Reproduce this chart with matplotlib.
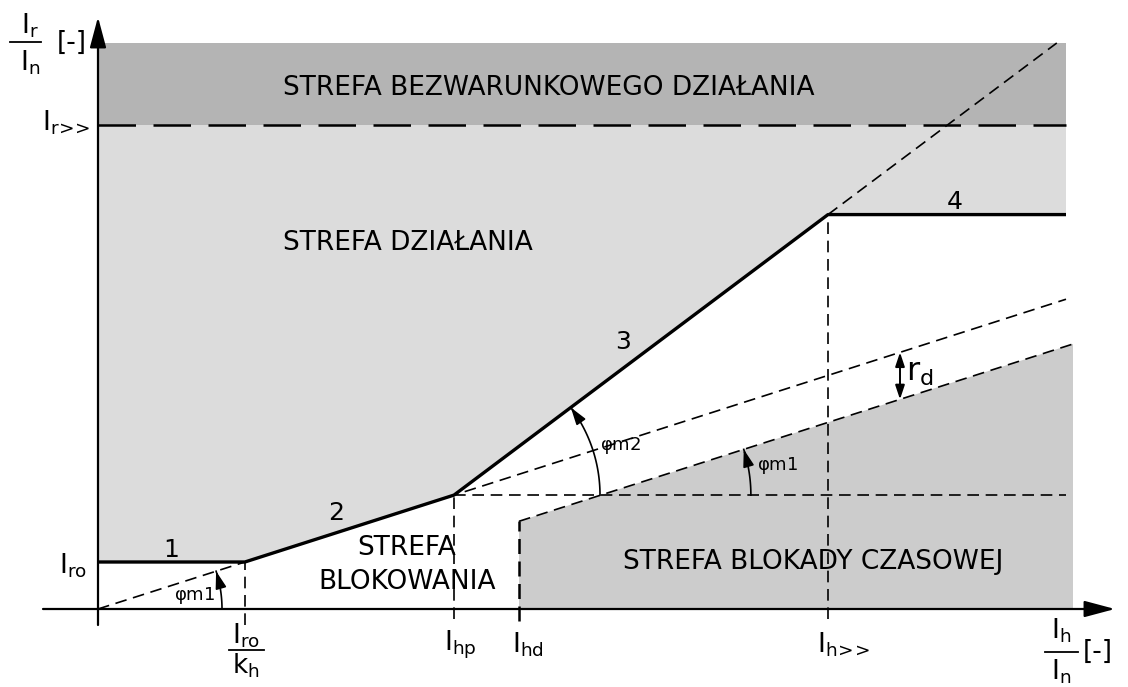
import numpy as np
import matplotlib.pyplot as plt
from matplotlib.patches import Polygon

# characteristic parameters (sketch units, Ih/In on x, Ir/In on y)
I_ro = 0.47        # minimum operating current
tg_m1 = 0.32       # slope of section 2 (phi_m1)
tg_m2 = 0.75       # slope of section 3 (phi_m2)
I_hp = 3.56        # breakpoint 2/3
I_hd = 4.21        # start of time-blocking zone
I_h_max = 7.30     # I_h>>
I_r_max = 4.84     # I_r>>
r_d = 0.47         # offset of the blocking line
x_end = 9.68
x_end_block = 9.75
y_top = 5.66

seg_labels = ['1', '2', '3', '4']
zone_labels = ['STREFA BEZWARUNKOWEGO DZIAŁANIA', 'STREFA DZIAŁANIA',
               'STREFA', 'BLOKOWANIA', 'STREFA BLOKADY CZASOWEJ']

# derived points
I_ro_kh = I_ro / tg_m1
y_hp = tg_m1 * I_hp
y_hmax = y_hp + tg_m2 * (I_h_max - I_hp)
x_cross = I_hp + r_d / tg_m1


def lower(x):
    return tg_m1 * x - r_d


char_x = [0, I_ro_kh, I_hp, I_h_max, x_end]
char_y = [I_ro, I_ro, y_hp, y_hmax, y_hmax]

plt.rcParams['font.family'] = ['DejaVu Sans']
plt.rcParams['mathtext.default'] = 'regular'

fig = plt.figure(figsize=(11.28, 6.87), dpi=100)
ax = fig.add_axes([0, 0, 1, 1])
ax.set_xlim(-0.98, 10.30)
ax.set_ylim(-0.78, 6.09)
ax.axis('off')

# zones
ax.add_patch(Polygon([(0, I_r_max), (x_end, I_r_max), (x_end, y_top), (0, y_top)],
                     closed=True, fc='#b4b4b4', ec='none', zorder=1))
ax.add_patch(Polygon([(0, I_ro), (I_ro_kh, I_ro), (I_hp, y_hp), (I_h_max, y_hmax),
                      (x_end, y_hmax), (x_end, I_r_max), (0, I_r_max)],
                     closed=True, fc='#dcdcdc', ec='none', zorder=1))
ax.add_patch(Polygon([(I_hd, 0), (I_hd, lower(I_hd)), (x_end_block, lower(x_end_block)),
                      (x_end_block, 0)], closed=True, fc='#cccccc', ec='none', zorder=1))

thin = dict(color='k', lw=1.2, ls=(0, (7, 4)), zorder=3)

# Ir>> line
ax.plot([0, x_end], [I_r_max, I_r_max], color='k', lw=1.8, ls=(0, (15, 7)), zorder=3)

# auxiliary dashed lines
x_up = np.array([0, x_end])
ax.plot(x_up, tg_m1 * x_up, **thin)
ax.plot([I_hp, x_end], [y_hp, y_hp], **thin)
ax.plot([I_hd, x_end_block], [lower(I_hd), lower(x_end_block)], **thin)
x_ext = I_hp + (y_top - y_hp) / tg_m2
ax.plot([I_h_max, x_ext], [y_hmax, y_top], **thin)
ax.plot([I_ro_kh, I_ro_kh], [-0.16, I_ro], **thin)
ax.plot([I_hp, I_hp], [-0.1, y_hp], **thin)
ax.plot([I_h_max, I_h_max], [-0.1, y_hmax], **thin)
ax.plot([I_hd, I_hd], [-0.12, lower(I_hd)], color='k', lw=1.8, ls=(0, (6, 3)), zorder=3)

# characteristic
ax.plot(char_x, char_y, color='k', lw=2.4, solid_capstyle='butt', zorder=4)

# axes arrows
arr = dict(arrowstyle='-|>,head_length=0.75,head_width=0.2', color='k', lw=1.6,
           mutation_scale=25, shrinkA=0, shrinkB=0)
ax.annotate('', xy=(10.17, 0), xytext=(-0.55, 0), arrowprops=arr, zorder=5)
ax.annotate('', xy=(0, 5.92), xytext=(0, -0.16), arrowprops=arr, zorder=5)


def angle_arc(cx, cy, r, a2):
    t = np.linspace(0, a2, 60)
    ax.plot(cx + r * np.cos(t), cy + r * np.sin(t), color='k', lw=1.2, zorder=4)
    ax.annotate('', xy=(cx + r * np.cos(a2), cy + r * np.sin(a2)),
                xytext=(cx + r * np.cos(a2 - 0.06), cy + r * np.sin(a2 - 0.06)),
                arrowprops=dict(arrowstyle='-|>,head_length=0.7,head_width=0.22',
                                color='k', lw=1.2, mutation_scale=15,
                                shrinkA=0, shrinkB=0), zorder=4)


a_m1 = np.arctan(tg_m1)
a_m2 = np.arctan(tg_m2)
angle_arc(0, 0, 1.24, a_m1)
angle_arc(I_hp, y_hp, 1.46, a_m2)
angle_arc(x_cross, y_hp, 1.5, a_m1)

# r_d arrow
x_rd = 8.02
ax.annotate('', xy=(x_rd, tg_m1 * x_rd), xytext=(x_rd, lower(x_rd)),
            arrowprops=dict(arrowstyle='<|-|>,head_length=0.6,head_width=0.2',
                            color='k', lw=1.4, mutation_scale=14,
                            shrinkA=0, shrinkB=0), zorder=4)
ax.text(8.08, 2.37, r'$r_{d}$', fontsize=23, ha='left', va='center', zorder=5)

# zone texts
zfs = 19
ax.text(1.85, 5.21, zone_labels[0], fontsize=zfs, ha='left', va='center', zorder=5)
ax.text(1.85, 3.66, zone_labels[1], fontsize=zfs, ha='left', va='center', zorder=5)
ax.text(3.09, 0.61, zone_labels[2], fontsize=zfs, ha='center', va='center', zorder=5)
ax.text(3.09, 0.27, zone_labels[3], fontsize=zfs, ha='center', va='center', zorder=5)
ax.text(7.15, 0.47, zone_labels[4], fontsize=zfs, ha='center', va='center', zorder=5)

# section numbers
for (tx, ty), s in zip([(0.73, 0.59), (2.38, 0.96), (5.25, 2.67), (8.57, 4.07)], seg_labels):
    ax.text(tx, ty, s, fontsize=18, ha='center', va='center', zorder=5)

# angle labels
afs = 13
ax.text(0.97, 0.14, r'$\varphi$m1', fontsize=afs, ha='center', va='center', zorder=5)
ax.text(5.02, 1.64, r'$\varphi$m2', fontsize=afs, ha='left', va='center', zorder=5)
ax.text(6.59, 1.44, r'$\varphi$m1', fontsize=afs, ha='left', va='center', zorder=5)

# axis labels
lfs = 19
ax.text(-0.08, 4.86, r'$I_{r\!>\!\!>}$', fontsize=lfs, ha='right', va='center')
ax.text(-0.11, 0.43, r'$I_{ro}$', fontsize=lfs, ha='right', va='center')
ax.text(-0.68, 5.83, r'$I_{r}$', fontsize=lfs, ha='center', va='center')
ax.plot([-0.88, -0.57], [5.67, 5.67], color='k', lw=1.3)
ax.text(-0.68, 5.46, r'$I_{n}$', fontsize=lfs, ha='center', va='center')
ax.text(-0.26, 5.66, '[-]', fontsize=lfs, ha='center', va='center')

ax.text(1.48, -0.27, r'$I_{ro}$', fontsize=lfs, ha='center', va='center')
ax.plot([1.31, 1.66], [-0.41, -0.41], color='k', lw=1.3)
ax.text(1.48, -0.57, r'$k_{h}$', fontsize=lfs, ha='center', va='center')
ax.text(3.62, -0.36, r'$I_{hp}$', fontsize=lfs, ha='center', va='center')
ax.text(4.30, -0.36, r'$I_{hd}$', fontsize=lfs, ha='center', va='center')
ax.text(7.45, -0.36, r'$I_{h\!>\!\!>}$', fontsize=lfs, ha='center', va='center')
ax.text(9.63, -0.22, r'$I_{h}$', fontsize=lfs, ha='center', va='center')
ax.plot([9.47, 9.80], [-0.43, -0.43], color='k', lw=1.3)
ax.text(9.63, -0.63, r'$I_{n}$', fontsize=lfs, ha='center', va='center')
ax.text(10.0, -0.43, '[-]', fontsize=lfs, ha='center', va='center')

fig.savefig('out.png', dpi=100)
